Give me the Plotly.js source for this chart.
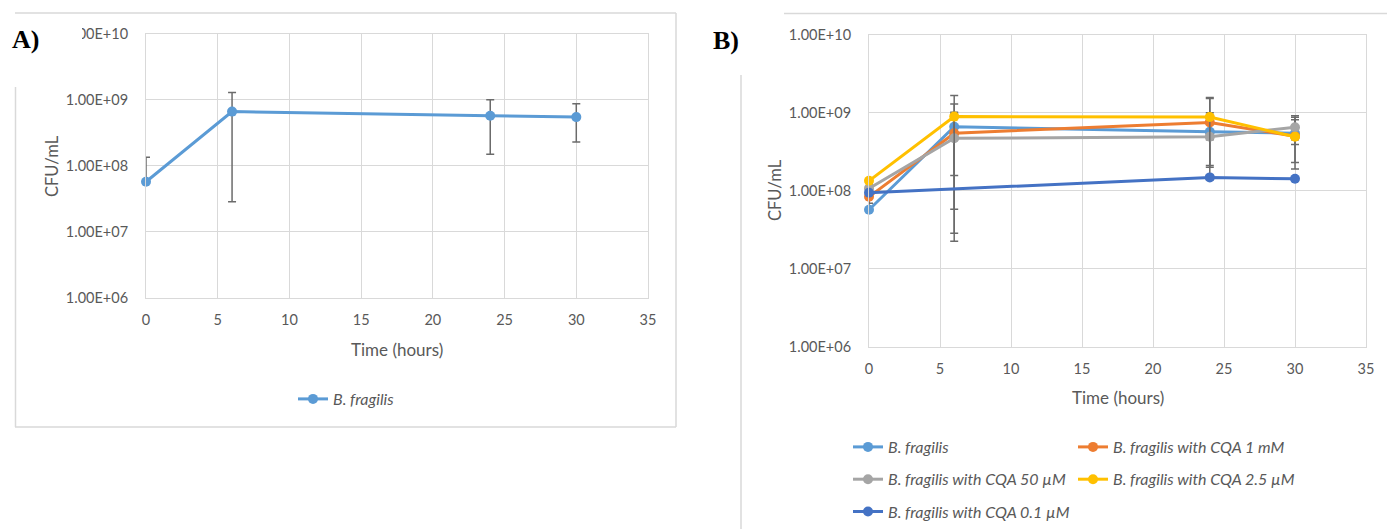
<!DOCTYPE html>
<html>
<head>
<meta charset="utf-8">
<script src="https://cdn.plot.ly/plotly-3.0.1.min.js"></script>
<style>
  html, body { margin: 0; padding: 0; background: #ffffff; }
  #chart { width: 1387px; height: 529px; }
</style>
</head>
<body>
<div id="chart"></div>
<script>
// ---------------- data ----------------
const time = [0, 6, 24, 30];
const time01 = [0, 24, 30];

const seriesNames = [
  "B. fragilis",
  "B. fragilis with CQA 1 mM",
  "B. fragilis with CQA 50 µM",
  "B. fragilis with CQA 2.5 µM",
  "B. fragilis with CQA 0.1 µM"
];

// B. fragilis (panel A and panel B)
const bfrag   = [5.7e7, 6.6e8, 5.7e8, 5.45e8];
const bfragHi = [1.34e8, 1.29e9, 1.0e9, 8.7e8];
const bfragLo = [5.7e7, 2.85e7, 1.49e8, 2.29e8];

// with CQA 1 mM
const cqa1mM   = [8.35e7, 5.45e8, 7.5e8, 5.0e8];
const cqa1mMHi = [9.5e7, 1.01e9, 1.52e9, 8.1e8];
const cqa1mMLo = [6.9e7, 5.8e7, 2.0e8, 1.9e8];

// with CQA 50 µM
const cqa50   = [1.07e8, 4.7e8, 4.9e8, 6.5e8];
const cqa50Hi = [1.15e8, 9.7e8, 5.3e8, 9.1e8];
const cqa50Lo = [9.9e7, 2.25e7, 4.5e8, 3.9e8];

// with CQA 2.5 µM
const cqa25   = [1.34e8, 8.9e8, 8.8e8, 4.9e8];
const cqa25Hi = [1.45e8, 1.66e9, 1.56e9, 5.3e8];
const cqa25Lo = [1.23e8, 1.57e8, 2.1e8, 4.5e8];

// with CQA 0.1 µM (no 6 h point)
const cqa01   = [9.4e7, 1.48e8, 1.42e8];
const cqa01Hi = [1.0e8, 1.58e8, 1.5e8];
const cqa01Lo = [8.8e7, 1.38e8, 1.34e8];

const yTickVals = [1e6, 1e7, 1e8, 1e9, 1e10];
const yTickText = ["1.00E+06", "1.00E+07", "1.00E+08", "1.00E+09", "1.00E+10"];
const xTickVals = [0, 5, 10, 15, 20, 25, 30, 35];

const xTitle = "Time (hours)";
const yTitle = "CFU/mL";

// ---------------- styling ----------------
const W = 1387, H = 529;
const px = x => x / W;
const py = y => 1 - y / H;

const colors = ["#5B9BD5", "#ED7D31", "#A5A5A5", "#FFC000", "#4472C4"];
const errColor = "#6b6b6b";
const FONT = "Lato, 'Open Sans', sans-serif";
const textCol = "#595959";
const gridCol = "#d9d9d9";

function diff(a, b) { return a.map((v, i) => v - b[i]); }

function mk(x, y, hi, lo, name, color, xa, ya, legend, group) {
  return {
    type: "scatter", mode: "lines+markers",
    x: x, y: y, name: name,
    xaxis: xa, yaxis: ya, legend: legend, legendgroup: group,
    cliponaxis: false,
    line: { color: color, width: 3 },
    marker: { color: color, size: 10 },
    error_y: {
      type: "data", symmetric: false,
      array: diff(hi, y), arrayminus: diff(y, lo),
      color: errColor, thickness: 1.5, width: 4
    },
    hoverinfo: "x+y+name"
  };
}

const traces = [
  mk(time, bfrag, bfragHi, bfragLo, seriesNames[0], colors[0], "x", "y", "legend", "a0"),
  mk(time, bfrag, bfragHi, bfragLo, seriesNames[0], colors[0], "x2", "y2", "legend2", "b0"),
  mk(time, cqa1mM, cqa1mMHi, cqa1mMLo, seriesNames[1], colors[1], "x2", "y2", "legend3", "b1"),
  mk(time, cqa50, cqa50Hi, cqa50Lo, seriesNames[2], colors[2], "x2", "y2", "legend2", "b2"),
  mk(time, cqa25, cqa25Hi, cqa25Lo, seriesNames[3], colors[3], "x2", "y2", "legend3", "b3"),
  mk(time01, cqa01, cqa01Hi, cqa01Lo, seriesNames[4], colors[4], "x2", "y2", "legend2", "b4")
];

function xAxis(domain, anchor) {
  return {
    domain: domain, anchor: anchor, range: [0, 35],
    tickmode: "array", tickvals: xTickVals,
    showgrid: true, gridcolor: gridCol, gridwidth: 1,
    zeroline: false, showline: true, linecolor: gridCol, linewidth: 1, mirror: true,
    ticks: "", ticklabelstandoff: 9,
    tickfont: { family: FONT, size: 14.5, color: textCol },
    fixedrange: true
  };
}
function yAxis(domain, anchor) {
  return {
    domain: domain, anchor: anchor, type: "log", range: [6, 10],
    tickmode: "array", tickvals: yTickVals, ticktext: yTickText,
    showgrid: true, gridcolor: gridCol, gridwidth: 1,
    zeroline: false, showline: true, linecolor: gridCol, linewidth: 1, mirror: true,
    ticks: "", ticklabelstandoff: 14,
    tickfont: { family: FONT, size: 14.5, color: textCol },
    fixedrange: true
  };
}

const legendFont = { family: FONT, size: 16, color: textCol, style: "italic" };
function legendCfg(x, y) {
  return {
    x: px(x), y: py(y), xanchor: "left", yanchor: "middle",
    orientation: "v", bgcolor: "rgba(0,0,0,0)", borderwidth: 0,
    font: legendFont, tracegroupgap: 8.5, itemclick: false, itemdoubleclick: false
  };
}

const lineShape = (x0, y0, x1, y1) => ({
  type: "line", xref: "paper", yref: "paper",
  x0: px(x0), y0: py(y0), x1: px(x1), y1: py(y1),
  line: { color: "#d9d9d9", width: 1.5 }, layer: "above"
});

const layout = {
  width: W, height: H,
  margin: { l: 0, r: 0, t: 0, b: 0, pad: 0 },
  paper_bgcolor: "#ffffff", plot_bgcolor: "#ffffff",
  showlegend: true,
  xaxis: xAxis([px(146), px(648)], "y"),
  yaxis: yAxis([py(297.7), py(33.7)], "x"),
  xaxis2: xAxis([px(869), px(1366)], "y2"),
  yaxis2: yAxis([py(346.8), py(34.6)], "x2"),
  legend: legendCfg(293, 399),
  legend2: legendCfg(848, 479.5),
  legend3: legendCfg(1073, 463.5),
  shapes: [
    // panel A frame
    lineShape(15, 13, 676, 13),
    lineShape(15.5, 87, 15.5, 427),
    lineShape(676, 13, 676, 427),
    lineShape(15, 427, 676, 427),
    // panel B frame
    lineShape(784, 13.5, 1387, 13.5),
    lineShape(741, 75, 741, 529),
    // crop of first characters of the top tick label in panel A
    { type: "rect", xref: "paper", yref: "paper", x0: px(40), x1: px(82), y0: py(46), y1: py(22),
      fillcolor: "#ffffff", line: { width: 0 }, layer: "above" }
  ],
  annotations: [
    { text: "<b>A)</b>", x: px(10), y: py(39), xref: "paper", yref: "paper", xanchor: "left", yanchor: "middle",
      showarrow: false, font: { family: "'Liberation Serif', 'Times New Roman', serif", size: 26, color: "#000" } },
    { text: "<b>B)</b>", x: px(711), y: py(40), xref: "paper", yref: "paper", xanchor: "left", yanchor: "middle",
      showarrow: false, font: { family: "'Liberation Serif', 'Times New Roman', serif", size: 26, color: "#000" } },
    { text: xTitle, x: px(397), y: py(349), xref: "paper", yref: "paper", xanchor: "center", yanchor: "middle",
      showarrow: false, font: { family: FONT, size: 17, color: textCol } },
    { text: xTitle, x: px(1118), y: py(397), xref: "paper", yref: "paper", xanchor: "center", yanchor: "middle",
      showarrow: false, font: { family: FONT, size: 17, color: textCol } },
    { text: yTitle, x: px(52), y: py(166), xref: "paper", yref: "paper", xanchor: "center", yanchor: "middle",
      textangle: -90, showarrow: false, font: { family: FONT, size: 16.5, color: textCol } },
    { text: yTitle, x: px(775), y: py(190), xref: "paper", yref: "paper", xanchor: "center", yanchor: "middle",
      textangle: -90, showarrow: false, font: { family: FONT, size: 16.5, color: textCol } }
  ]
};

Plotly.newPlot("chart", traces, layout, { displayModeBar: false, staticPlot: true });
</script>
</body>
</html>
